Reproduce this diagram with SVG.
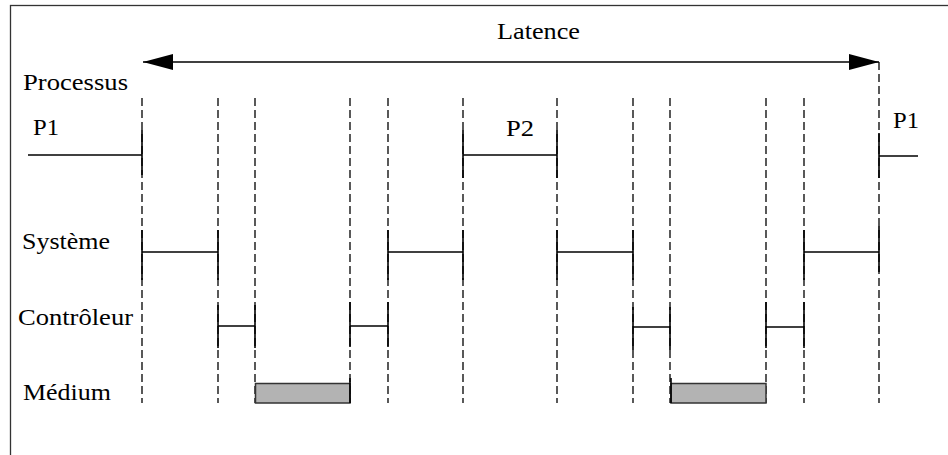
<svg xmlns="http://www.w3.org/2000/svg" width="948" height="455" viewBox="0 0 948 455">
<style>
.d{stroke:#000;stroke-width:1.3;stroke-dasharray:8,4;fill:none}
.s{stroke:#000;stroke-width:1.3;fill:none}
.k{stroke:#000;stroke-width:1.6;fill:none}
.m{fill:#b3b3b3;stroke:#333;stroke-width:1.5}
.t{font-family:"Liberation Serif","DejaVu Serif",serif;font-size:23px;fill:#000}
</style>
<defs>
<marker id="ah" markerWidth="30" markerHeight="16" refX="30" refY="8" orient="auto-start-reverse" markerUnits="userSpaceOnUse">
<path d="M0,0 L30,8 L0,16 Z" fill="#000"/>
</marker>
</defs>
<rect x="10.5" y="5.5" width="950" height="460" fill="#fff" stroke="#333" stroke-width="1.3"/>
<g id="labels">
<text class="t" x="497" y="39" textLength="83" lengthAdjust="spacingAndGlyphs">Latence</text>
<text class="t" x="23" y="90" textLength="105" lengthAdjust="spacingAndGlyphs">Processus</text>
<text class="t" x="33" y="135" textLength="26" lengthAdjust="spacingAndGlyphs">P1</text>
<text class="t" x="506" y="136" textLength="28" lengthAdjust="spacingAndGlyphs">P2</text>
<text class="t" x="893" y="128" textLength="26" lengthAdjust="spacingAndGlyphs">P1</text>
<text class="t" x="22" y="249" textLength="88" lengthAdjust="spacingAndGlyphs">Système</text>
<text class="t" x="18" y="325" textLength="115" lengthAdjust="spacingAndGlyphs">Contrôleur</text>
<text class="t" x="23" y="400" textLength="88" lengthAdjust="spacingAndGlyphs">Médium</text>
</g>
<g id="connectors">
<line class="s" x1="143" y1="62" x2="879" y2="62" marker-start="url(#ah)" marker-end="url(#ah)"/>
<g id="dashes">
<line class="d" x1="142" y1="98" x2="142" y2="403"/>
<line class="d" x1="218" y1="98" x2="218" y2="403"/>
<line class="d" x1="255" y1="98" x2="255" y2="403"/>
<line class="d" x1="350" y1="98" x2="350" y2="403"/>
<line class="d" x1="388" y1="98" x2="388" y2="403"/>
<line class="d" x1="463" y1="98" x2="463" y2="403"/>
<line class="d" x1="557" y1="98" x2="557" y2="403"/>
<line class="d" x1="633" y1="98" x2="633" y2="403"/>
<line class="d" x1="670" y1="98" x2="670" y2="403"/>
<line class="d" x1="766" y1="98" x2="766" y2="403"/>
<line class="d" x1="804" y1="98" x2="804" y2="403"/>
<line class="d" x1="879" y1="62" x2="879" y2="403"/>
</g>
</g>
<g id="processus">
<line class="s" x1="28" y1="155" x2="142" y2="155"/>
<line class="k" x1="142" y1="130" x2="142" y2="175"/>
<line class="s" x1="463" y1="155" x2="557" y2="155"/>
<line class="k" x1="463" y1="130" x2="463" y2="178"/>
<line class="k" x1="557" y1="130" x2="557" y2="178"/>
<line class="s" x1="879" y1="156" x2="918" y2="156"/>
<line class="k" x1="879" y1="133" x2="879" y2="178"/>
</g>
<g id="systeme">
<line class="s" x1="142" y1="252" x2="218" y2="252"/>
<line class="s" x1="388" y1="252" x2="463" y2="252"/>
<line class="s" x1="557" y1="252" x2="633" y2="252"/>
<line class="s" x1="804" y1="252" x2="879" y2="252"/>
<line class="k" x1="142" y1="230" x2="142" y2="280"/>
<line class="k" x1="218" y1="230" x2="218" y2="280"/>
<line class="k" x1="388" y1="230" x2="388" y2="280"/>
<line class="k" x1="463" y1="230" x2="463" y2="280"/>
<line class="k" x1="557" y1="230" x2="557" y2="280"/>
<line class="k" x1="633" y1="230" x2="633" y2="280"/>
<line class="k" x1="804" y1="230" x2="804" y2="280"/>
<line class="k" x1="879" y1="226" x2="879" y2="272"/>
</g>
<g id="controleur">
<line class="s" x1="218" y1="326" x2="255" y2="326"/>
<line class="s" x1="350" y1="326" x2="388" y2="326"/>
<line class="s" x1="633" y1="327" x2="670" y2="327"/>
<line class="s" x1="766" y1="327" x2="804" y2="327"/>
<line class="k" x1="218" y1="305" x2="218" y2="348"/>
<line class="k" x1="255" y1="305" x2="255" y2="348"/>
<line class="k" x1="350" y1="302" x2="350" y2="347"/>
<line class="k" x1="388" y1="302" x2="388" y2="347"/>
<line class="k" x1="633" y1="307" x2="633" y2="350"/>
<line class="k" x1="670" y1="307" x2="670" y2="350"/>
<line class="k" x1="766" y1="302" x2="766" y2="348"/>
<line class="k" x1="804" y1="302" x2="804" y2="348"/>
</g>
<g id="medium">
<rect class="m" x="255.5" y="383.5" width="94.5" height="19.5"/>
<rect class="m" x="671" y="383.5" width="95" height="19.5"/>
<line class="k" x1="350" y1="378" x2="350" y2="403"/>
<line class="k" x1="671" y1="378" x2="671" y2="403"/>
</g>
</svg>
